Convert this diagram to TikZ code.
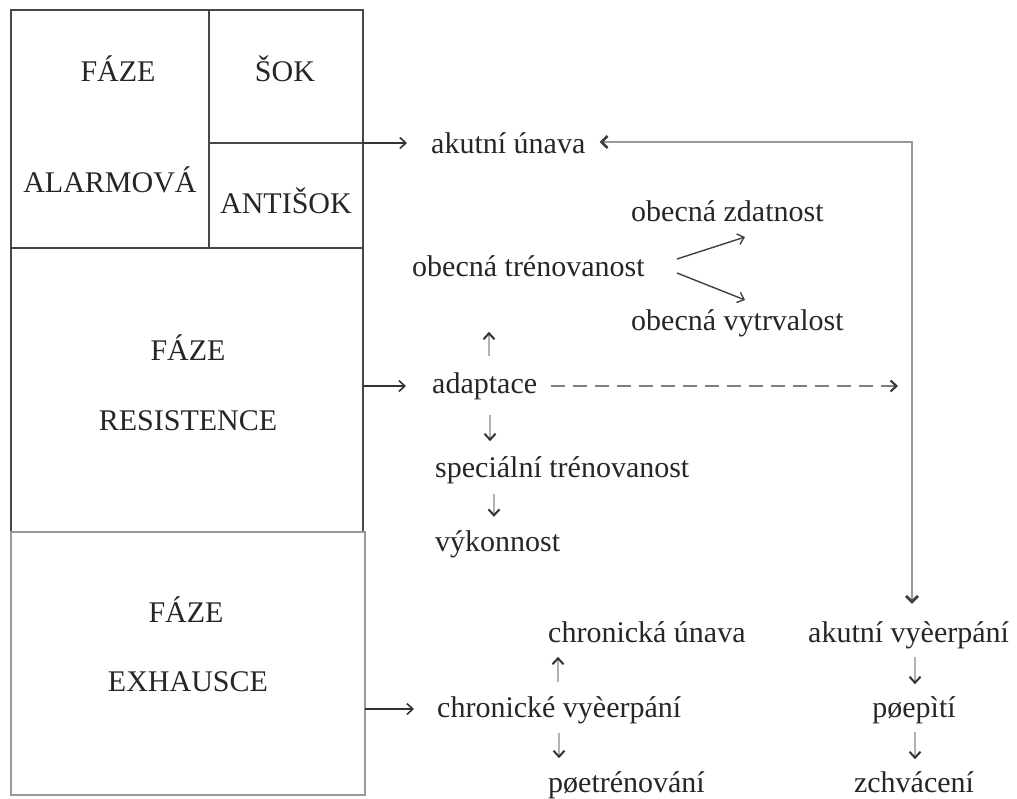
\documentclass[tikz,border=0pt]{standalone}
\usepackage{fontspec}
\setmainfont{Liberation Serif}
\usetikzlibrary{arrows.meta}
\begin{document}
\begin{tikzpicture}[x=1pt,y=-1pt,
  lbl/.style={inner sep=0pt, text height=21pt, text depth=6pt, font=\fontsize{30}{36}\selectfont, text=black!85},
  boxline/.style={draw=black!72, line width=2.2pt},
  exhline/.style={draw=black!40, line width=2.6pt},
  harr/.style={draw=black!80, line width=1.6pt, -{Straight Barb[length=6pt,width=11pt]}},
  darr/.style={draw=black!75, line width=1.4pt, -{Straight Barb[length=6pt,width=11pt]}},
  varr/.style={draw=black!30, line width=2pt, -{Straight Barb[length=6pt,width=11pt,color=black!80]}},
  dasharr/.style={draw=black!50, line width=2pt, dash pattern=on 14pt off 8pt, -{Straight Barb[length=6pt,width=11pt,color=black!80]}},
  bigline/.style={draw=black!40, line width=2.8pt, {Straight Barb[length=6pt,width=12pt,color=black!75]}-{Straight Barb[length=6pt,width=12pt,color=black!75]}}
]
\useasboundingbox (0,0) rectangle (1017,798);
% boxes
\draw[boxline] (11,10) rectangle (363,248);
\draw[boxline] (209,10) -- (209,248);
\draw[boxline] (209,143) -- (363,143);
\draw[boxline] (11,248) rectangle (363,532);
\draw[exhline] (11,532) rectangle (365,795);
% box texts
\node[lbl, anchor=base] (faze1) at (118,81) {FÁZE};
\node[lbl, anchor=base] (alarm) at (110,192) {ALARMOVÁ};
\node[lbl, anchor=base] (sok) at (285,81) {ŠOK};
\node[lbl, anchor=base] (antisok) at (286,213) {ANTIŠOK};
\node[lbl, anchor=base] (faze2) at (188,360) {FÁZE};
\node[lbl, anchor=base] (resist) at (188,430) {RESISTENCE};
\node[lbl, anchor=base] (faze3) at (186,622) {FÁZE};
\node[lbl, anchor=base] (exhaus) at (188,691) {EXHAUSCE};
% right texts
\node[lbl, anchor=base west] (akun) at (431,153) {akutní únava};
\node[lbl, anchor=base west] (obzd) at (631,221) {obecná zdatnost};
\node[lbl, anchor=base west] (obtr) at (412,276) {obecná trénovanost};
\node[lbl, anchor=base west] (obvy) at (631,330) {obecná vytrvalost};
\node[lbl, anchor=base west] (adapt) at (432,393) {adaptace};
\node[lbl, anchor=base west] (spec) at (435,477) {speciální trénovanost};
\node[lbl, anchor=base west] (vyk) at (435,551) {výkonnost};
\node[lbl, anchor=base west] (chun) at (548,642) {chronická únava};
\node[lbl, anchor=base west] (chvy) at (437,717) {chronické vyèerpání};
\node[lbl, anchor=base west] (pretr) at (548,792) {pøetrénování};
\node[lbl, anchor=base west] (akvy) at (808,642) {akutní vyèerpání};
\node[lbl, anchor=base] (prep) at (914,717) {pøepìtí};
\node[lbl, anchor=base] (zchv) at (914,792) {zchvácení};
% coordinates
\coordinate (c1) at (363,143);
\coordinate (c2) at (363,386);
\coordinate (c3) at (365,709);
\coordinate (corner) at (912,142);
\coordinate (dashend) at (898,386);
\coordinate (d1s) at (677,259);
\coordinate (d1e) at (745,237);
\coordinate (d2s) at (677,273);
\coordinate (d2e) at (745,300);
% box arrows
\draw[harr, shorten >=24pt] (c1) -- (c1 -| akun.west);
\draw[harr, shorten >=26pt] (c2) -- (c2 -| adapt.west);
\draw[harr, shorten >=23pt] (c3) -- (c3 -| chvy.west);
% big gray connector
\draw[bigline, shorten <=14pt, shorten >=17pt] (akun.east |- corner) -- (corner) -- (corner |- akvy.north);
% dashed
\draw[dasharr, shorten <=14pt] (dashend -| adapt.east) -- (dashend);
% diagonals (obecná trénovanost -> obecná zdatnost / obecná vytrvalost)
\draw[darr] (d1s) -- (d1e);
\draw[darr] (d2s) -- (d2e);
% small vertical arrows
\draw[varr] ([xshift=57pt]adapt.north west) ++(0,-16) -- ++(0,-24);
\draw[varr] ([xshift=58pt]adapt.south west) ++(0,16) -- ++(0,26);
\draw[varr] ([xshift=59pt]vyk.north west) ++(0,-36) -- ++(0,23);
\draw[varr] ([xshift=10pt]chvy.north -| chun.west) ++(0,-14) -- ++(0,-25);
\draw[varr] ([xshift=11pt]chvy.south -| pretr.west) ++(0,10) -- ++(0,25);
\draw[varr] ([xshift=1pt]akvy.south -| prep) ++(0,9) -- ++(0,27);
\draw[varr] ([xshift=1pt]prep.south) ++(0,9) -- ++(0,27);
\end{tikzpicture}
\end{document}
